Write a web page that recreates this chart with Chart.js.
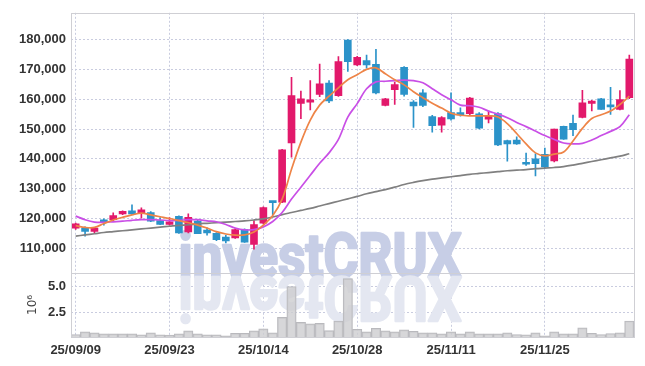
<!DOCTYPE html>
<html>
<head>
<meta charset="utf-8">
<title>investCRUX chart</title>
<script src="https://cdn.jsdelivr.net/npm/chart.js@4.4.1/dist/chart.umd.min.js"></script>
<style>
    html, body { margin: 0; padding: 0; background: #ffffff; }
    #wrap { width: 645px; height: 366px; position: relative; }
</style>
</head>
<body>
<div id="wrap"><canvas id="myChart"></canvas></div>
<script>
// trading days (yy/mm/dd)
const dates = [
    "25/09/09", "25/09/10", "25/09/11", "25/09/12", "25/09/15", "25/09/16", "25/09/17", "25/09/18", "25/09/19", "25/09/22",
    "25/09/23", "25/09/24", "25/09/25", "25/09/26", "25/09/29", "25/09/30", "25/10/01", "25/10/02", "25/10/10", "25/10/13",
    "25/10/14", "25/10/15", "25/10/16", "25/10/17", "25/10/20", "25/10/21", "25/10/22", "25/10/23", "25/10/24", "25/10/27",
    "25/10/28", "25/10/29", "25/10/30", "25/10/31", "25/11/03", "25/11/04", "25/11/05", "25/11/06", "25/11/07", "25/11/10",
    "25/11/11", "25/11/12", "25/11/13", "25/11/14", "25/11/17", "25/11/18", "25/11/19", "25/11/20", "25/11/21", "25/11/24",
    "25/11/25", "25/11/26", "25/11/27", "25/11/28", "25/12/01", "25/12/02", "25/12/03", "25/12/04", "25/12/05", "25/12/08"
];

const openP = [
    116800, 116800, 115700, 119200, 119600, 121500, 122600, 121600, 122000, 119300,
    118000, 120700, 115500, 119100, 116100, 115000, 113800, 113500, 116300, 111300,
    118400, 125500, 125500, 145300, 158600, 159000, 161600, 165400, 161200, 179800,
    171500, 172900, 171700, 157900, 163200, 170700, 159000, 162100, 154200, 151300,
    155500, 155500, 155100, 155100, 153300, 155200, 146100, 146300, 138600, 140000,
    141500, 139300, 150900, 151900, 153900, 158600, 160100, 158000, 156600, 160500
];
const highP = [
    118500, 117200, 117000, 119900, 121900, 122600, 124600, 123600, 122300, 120300,
    120300, 120900, 121600, 119400, 116900, 115300, 114400, 116600, 116500, 119300,
    123900, 125600, 143200, 167300, 162700, 166200, 171800, 166200, 174300, 180000,
    174400, 174800, 176700, 160300, 165700, 170900, 159500, 163200, 154600, 154200,
    162100, 157100, 160600, 155500, 156000, 155500, 146300, 147400, 141900, 141700,
    143600, 150000, 151000, 154700, 163000, 159600, 160300, 164000, 162900, 174800
];
const lowP = [
    116300, 114100, 115200, 117800, 119000, 121300, 121300, 120100, 118900, 117900,
    117800, 115000, 115200, 114900, 114400, 112600, 111800, 113300, 112000, 109700,
    118200, 121300, 125300, 140600, 153500, 156400, 160800, 158800, 160900, 169300,
    171200, 170400, 161800, 157700, 158200, 161000, 150500, 157500, 148900, 148900,
    153000, 154300, 154600, 150000, 152000, 144400, 139200, 144800, 137800, 134300,
    137000, 139000, 146500, 147800, 153700, 156100, 156600, 154900, 156400, 160200
];
const closeP = [
    118200, 115700, 116800, 118900, 121000, 122400, 121500, 122900, 119100, 118000,
    118900, 115200, 120400, 114900, 115200, 112900, 112500, 116300, 112100, 118000,
    123700, 125300, 143000, 161200, 160100, 159800, 165100, 159400, 172600, 172600,
    174000, 171500, 162100, 160100, 164900, 161600, 157700, 157900, 151100, 153800,
    153400, 154700, 160400, 150300, 154400, 144700, 145000, 145000, 138200, 138400,
    137300, 150000, 146600, 149800, 158800, 159400, 156600, 157400, 159900, 173400
];

// moving average lines
const maShort = [
    117600, 117000, 117000, 118300, 119500, 120400, 121200, 121800, 121200, 120600,
    120000, 119300, 118600, 117800, 116800, 115600, 114800, 114400, 114500, 115500,
    117800, 121000, 126500, 136500, 145600, 153000, 158000, 161000, 163800, 166500,
    168200, 170000, 170500, 168500, 166500, 164800, 162500, 160500, 158600, 157000,
    155300, 154600, 154400, 154400, 154400, 154000, 151800, 148500, 145000, 142000,
    141000, 141600, 142300, 146000, 150200, 153500, 154800, 156000, 158200, 161000
];
const maMid = [
    120800, 119600, 118800, 118700, 118900, 119100, 119400, 119600, 119600, 119500,
    119300, 119400, 119600, 119600, 119200, 118900, 118000, 116800, 116200, 116300,
    117200, 119000, 122000, 126500, 130500, 134500, 138500, 142000, 146500, 154000,
    158500, 163500, 165800, 166000, 166200, 166400, 166200, 165500, 163500, 161500,
    159800, 158000, 157800, 157300, 156000, 155000, 153800, 152200, 150800, 149300,
    147800, 146500, 145300, 145000, 145200, 146300, 147800, 149200, 150800, 154800
];
const maLong = [
    114100, 114500, 114900, 115300, 115600, 115900, 116200, 116500, 116800, 117100,
    117400, 117700, 117900, 118200, 118400, 118600, 118800, 119000, 119200, 119500,
    119900, 120500, 121300, 122000, 122700, 123400, 124200, 125000, 125800, 126600,
    127400, 128300, 129000, 129700, 130500, 131400, 132100, 132700, 133200, 133600,
    134000, 134400, 134800, 135100, 135400, 135700, 136000, 136200, 136400, 136700,
    136900, 137100, 137400, 137900, 138500, 139100, 139700, 140300, 140900, 141700
];

// volume in millions of shares
const volumeM = [
    0.44, 0.69, 0.59, 0.50, 0.50, 0.50, 0.50, 0.41, 0.59, 0.41,
    0.38, 0.50, 0.78, 0.50, 0.41, 0.41, 0.31, 0.56, 0.56, 0.78,
    0.97, 0.59, 2.06, 5.00, 1.59, 1.44, 1.50, 0.81, 1.72, 5.75,
    0.94, 0.69, 1.03, 0.78, 0.69, 0.88, 0.75, 0.59, 0.59, 0.50,
    0.69, 0.50, 0.69, 0.50, 0.50, 0.50, 0.59, 0.44, 0.41, 0.59,
    0.31, 0.69, 0.50, 0.50, 1.06, 0.56, 0.44, 0.53, 0.59, 1.72
];

const priceTicks = [110000, 120000, 130000, 140000, 150000, 160000, 170000, 180000];
const volumeTicks = [2.5, 5.0];

const upColor = "#e2196b";
const downColor = "#2b93c9";
const gridColor = "#c9ccdf";
const labelFont = { family: "'Liberation Sans', Arial, sans-serif", size: 13, weight: "bold" };

var candleColors = closeP.map((c, i) => c >= openP[i] ? upColor : downColor);
var wickData = dates.map((d, i) => [lowP[i], highP[i]]);
var bodyData = dates.map((d, i) => [openP[i], closeP[i]]);

// frame, panel separator and the watermark
const decor = {
    id: "decor",
    beforeDatasetsDraw(chart) {
        const ctx = chart.ctx;
        const txt = "investCRUX";
        ctx.save();
        ctx.font = "bold 62px Roboto, 'DejaVu Sans', sans-serif";
        ctx.textAlign = "center";
        ctx.textBaseline = "alphabetic";
        ctx.lineJoin = "round";
        ctx.lineWidth = 2.5;
        const w = ctx.measureText(txt).width;
        ctx.translate(320, 277);
        ctx.scale(283 / w, 1);
        ctx.fillStyle = "#c7cee6";
        ctx.strokeStyle = "#c7cee6";
        ctx.strokeText(txt, 0, 0);
        ctx.fillText(txt, 0, 0);
        // reflection
        ctx.scale(1, -1);
        ctx.fillStyle = "#e4e7f1";
        ctx.strokeStyle = "#e4e7f1";
        ctx.strokeText(txt, 0, 0);
        ctx.fillText(txt, 0, 0);
        ctx.restore();
    },
    afterDraw(chart) {
        const ctx = chart.ctx;
        const a = chart.chartArea;
        const sep = chart.scales.y.bottom;
        ctx.save();
        ctx.strokeStyle = "#cfcfd4";
        ctx.lineWidth = 1;
        ctx.strokeRect(Math.round(a.left) + 0.5, Math.round(a.top) + 0.5, Math.round(a.right - a.left), Math.round(a.bottom - a.top));
        ctx.beginPath();
        ctx.moveTo(a.left, Math.round(sep) + 0.5);
        ctx.lineTo(a.right, Math.round(sep) + 0.5);
        ctx.stroke();
        ctx.restore();
    }
};

new Chart("myChart", {
    type: "bar",
    data: {
        labels: dates,
        datasets: [
            {
                type: "line", label: "MA short", data: maShort, yAxisID: "y", order: 0,
                borderColor: "#ee8447", borderWidth: 1.7, pointRadius: 0, tension: 0.35
            },
            {
                type: "line", label: "MA mid", data: maMid, yAxisID: "y", order: 0,
                borderColor: "#c94fe6", borderWidth: 1.7, pointRadius: 0, tension: 0.35
            },
            {
                type: "line", label: "MA long", data: maLong, yAxisID: "y", order: 0,
                borderColor: "#808080", borderWidth: 1.7, pointRadius: 0, tension: 0.35
            },
            {
                label: "body", data: bodyData, yAxisID: "y", order: 1, grouped: false,
                backgroundColor: candleColors, borderWidth: 0, barThickness: 7, minBarLength: 2
            },
            {
                label: "wick", data: wickData, yAxisID: "y", order: 2, grouped: false,
                backgroundColor: candleColors, borderWidth: 0, barThickness: 1
            },
            {
                label: "volume", data: volumeM, yAxisID: "y2", order: 3, grouped: false,
                backgroundColor: "rgba(205,205,208,0.8)", borderColor: "#b9b9bd", borderWidth: 1,
                barPercentage: 1, categoryPercentage: 1
            }
        ]
    },
    options: {
        responsive: true,
        maintainAspectRatio: false,
        animation: false,
        layout: { padding: { top: 9, right: 11, left: 0, bottom: 0 } },
        plugins: {
            legend: { display: false },
            tooltip: { enabled: false }
        },
        scales: {
            x: {
                type: "category",
                offset: true,
                grid: { offset: false, color: gridColor, drawTicks: false },
                border: { display: false, dash: [2, 2] },
                afterBuildTicks: function (scale) {
                    scale.ticks = scale.ticks.filter(t => t.value % 10 === 0);
                },
                afterFit: function (scale) { scale.height = 29; },
                ticks: { autoSkip: false, maxRotation: 0, padding: 6, color: "#333333", font: labelFont }
            },
            y: {
                type: "linear",
                position: "left",
                stack: "panels",
                stackWeight: 4.05,
                weight: 2,
                min: 101800,
                max: 188950,
                afterBuildTicks: function (scale) {
                    scale.ticks = priceTicks.map(v => ({ value: v }));
                },
                afterFit: function (scale) { scale.width = 71; },
                grid: { color: gridColor, drawTicks: false },
                border: { display: false, dash: [2, 2] },
                ticks: {
                    autoSkip: false, padding: 5, color: "#333333", font: labelFont,
                    callback: v => v.toLocaleString("en-US")
                }
            },
            y2: {
                type: "linear",
                position: "left",
                stack: "panels",
                stackWeight: 1,
                weight: 1,
                min: 0.2,
                max: 6.3,
                afterBuildTicks: function (scale) {
                    scale.ticks = volumeTicks.map(v => ({ value: v }));
                },
                afterFit: function (scale) { scale.width = 71; },
                grid: { color: gridColor, drawTicks: false },
                border: { display: false, dash: [2, 2] },
                title: {
                    display: true, text: "10\u2076", color: "#444444",
                    font: { family: "'DejaVu Sans', sans-serif", size: 12 },
                    padding: { top: 26, bottom: 2 }
                },
                ticks: {
                    autoSkip: false, padding: 5, color: "#333333", font: labelFont,
                    callback: v => v.toFixed(1)
                }
            }
        }
    },
    plugins: [decor]
});
</script>
</body>
</html>
